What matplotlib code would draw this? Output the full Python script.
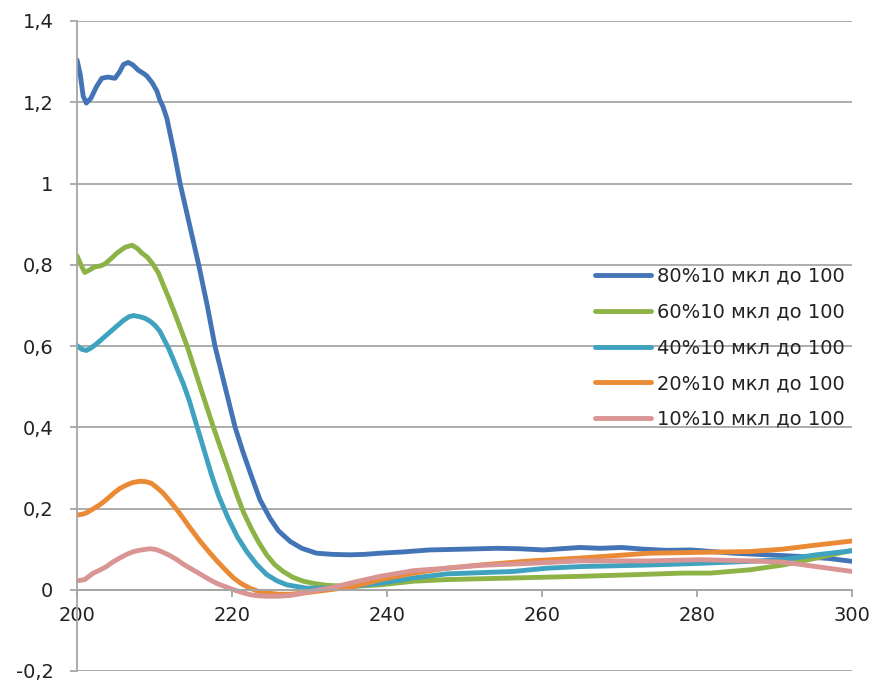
import matplotlib
matplotlib.use("Agg")
import matplotlib.pyplot as plt
from matplotlib.ticker import FixedLocator, FixedFormatter

# Absorbance spectra, wavelength in nm
x80 = [200.0, 200.4, 200.8, 201.2, 201.8, 202.5, 203.2, 204.0, 204.9, 205.5, 206.0, 206.6,
       207.2, 207.9, 208.5, 209.0, 209.7, 210.3, 210.7, 211.1, 211.6, 212.0, 212.6, 213.3,
       214.5, 215.7, 216.8, 217.8, 219.1, 220.4, 221.4, 222.5, 223.6, 224.9, 226.0, 227.5,
       229.0, 230.9, 233.0, 235.2, 237.0, 239.1, 242.0, 245.5, 250.0, 254.2, 257.0, 260.2,
       262.5, 264.9, 267.5, 270.3, 273.0, 276.1, 279.1, 282.0, 284.7, 289.0, 293.3, 297.0,
       300.0]
y80 = [1.304, 1.270, 1.215, 1.198, 1.210, 1.238, 1.259, 1.262, 1.259, 1.275, 1.293, 1.298,
       1.292, 1.279, 1.272, 1.265, 1.248, 1.228, 1.205, 1.189, 1.160, 1.124, 1.070, 1.000,
       0.900, 0.800, 0.700, 0.600, 0.500, 0.400, 0.340, 0.280, 0.222, 0.176, 0.145, 0.119,
       0.102, 0.090, 0.087, 0.086, 0.087, 0.090, 0.093, 0.098, 0.100, 0.102, 0.101, 0.098,
       0.101, 0.104, 0.102, 0.104, 0.100, 0.097, 0.098, 0.094, 0.090, 0.086, 0.082, 0.077,
       0.070]

x60 = [200.0, 200.5, 201.0, 201.6, 202.3, 203.0, 203.6, 204.4, 205.1, 206.2, 207.1, 207.8,
       208.3, 209.1, 209.8, 210.5, 211.1, 211.8, 212.4, 213.3, 214.2, 215.3, 216.4, 217.6,
       218.6, 219.7, 220.6, 221.5, 222.5, 223.5, 224.5, 225.5, 226.6, 227.8, 229.2, 230.7,
       232.2, 235.2, 239.1, 243.4, 247.7, 256.3, 264.9, 271.8, 278.2, 281.7, 286.8, 291.1,
       295.4, 300.0]
y60 = [0.822, 0.800, 0.781, 0.787, 0.795, 0.797, 0.802, 0.815, 0.828, 0.843, 0.848, 0.840,
       0.830, 0.818, 0.801, 0.780, 0.752, 0.720, 0.691, 0.646, 0.600, 0.535, 0.470, 0.400,
       0.345, 0.285, 0.235, 0.190, 0.150, 0.115, 0.085, 0.062, 0.045, 0.031, 0.021, 0.015,
       0.011, 0.008, 0.012, 0.021, 0.025, 0.029, 0.033, 0.037, 0.041, 0.041, 0.049, 0.061,
       0.078, 0.097]

x40 = [200.0, 200.6, 201.2, 201.8, 202.5, 203.4, 204.3, 205.2, 206.0, 206.7, 207.3, 208.1,
       208.8, 209.5, 210.1, 210.7, 211.1, 211.8, 212.4, 213.0, 213.7, 214.5, 215.2, 216.3,
       217.4, 218.3, 219.5, 220.7, 221.9, 223.2, 224.5, 225.8, 227.1, 229.6, 232.6, 235.5,
       239.1, 243.4, 247.7, 256.3, 260.6, 264.9, 273.9, 280.4, 286.8, 291.1, 295.4, 300.0]
y40 = [0.601, 0.592, 0.589, 0.595, 0.605, 0.620, 0.635, 0.650, 0.663, 0.672, 0.675, 0.672,
       0.668, 0.660, 0.650, 0.636, 0.621, 0.595, 0.568, 0.540, 0.508, 0.465, 0.420, 0.350,
       0.280, 0.230, 0.176, 0.130, 0.094, 0.062, 0.037, 0.022, 0.012, 0.004, 0.004, 0.008,
       0.016, 0.029, 0.039, 0.045, 0.053, 0.057, 0.061, 0.065, 0.070, 0.074, 0.086, 0.096]

x20 = [200.0, 200.7, 201.2, 202.0, 203.0, 203.8, 204.7, 205.5, 206.4, 207.2, 208.1, 208.9,
       209.6, 210.4, 211.1, 212.0, 212.9, 213.7, 214.6, 215.9, 217.0, 218.0, 219.1, 220.2,
       221.2, 222.3, 223.4, 224.5, 226.0, 227.5, 229.2, 230.9, 233.0, 235.2, 237.2, 239.1,
       243.4, 247.7, 252.0, 258.5, 264.9, 273.9, 280.4, 286.8, 291.1, 295.4, 300.0]
y20 = [0.184, 0.186, 0.189, 0.198, 0.210, 0.222, 0.237, 0.249, 0.258, 0.264, 0.267, 0.266,
       0.262, 0.250, 0.238, 0.218, 0.197, 0.176, 0.152, 0.119, 0.094, 0.072, 0.050, 0.029,
       0.015, 0.004, -0.004, -0.008, -0.011, -0.011, -0.008, -0.004, 0.001, 0.006, 0.015, 0.025,
       0.041, 0.053, 0.061, 0.071, 0.078, 0.090, 0.092, 0.094, 0.100, 0.110, 0.120]

x10 = [200.0, 201.0, 202.1, 203.0, 203.8, 204.6, 205.5, 206.4, 207.3, 208.3, 209.4, 210.2,
       210.9, 211.9, 212.9, 213.7, 214.6, 215.5, 216.3, 217.2, 218.1, 219.2, 220.2, 221.2,
       222.3, 223.4, 224.5, 226.0, 227.5, 228.8, 230.1, 232.6, 235.2, 237.0, 239.1, 243.4,
       247.7, 252.0, 258.5, 264.9, 273.9, 280.4, 286.8, 291.1, 295.4, 300.0]
y10 = [0.022, 0.025, 0.041, 0.049, 0.057, 0.068, 0.078, 0.087, 0.094, 0.098, 0.101, 0.099,
       0.094, 0.085, 0.074, 0.063, 0.053, 0.043, 0.034, 0.024, 0.015, 0.007, 0.000, -0.006,
       -0.012, -0.015, -0.016, -0.016, -0.014, -0.010, -0.004, 0.004, 0.016, 0.024, 0.033, 0.047,
       0.053, 0.060, 0.065, 0.071, 0.071, 0.074, 0.071, 0.068, 0.057, 0.045]

series_labels = ["80%10 мкл до 100", "60%10 мкл до 100", "40%10 мкл до 100",
                 "20%10 мкл до 100", "10%10 мкл до 100"]
series_colors = ["#4375B6", "#8DB347", "#3FA2BE", "#EB8A35", "#D99594"]

x_ticks = [200, 220, 240, 260, 280, 300]
x_tick_labels = ["200", "220", "240", "260", "280", "300"]
y_ticks = [-0.2, 0.0, 0.2, 0.4, 0.6, 0.8, 1.0, 1.2, 1.4]
y_tick_labels = ["-0,2", "0", "0,2", "0,4", "0,6", "0,8", "1", "1,2", "1,4"]

plt.rcParams['font.family'] = ['DejaVu Sans']
fig = plt.figure(figsize=(8.76, 6.81), dpi=100)
ax = fig.add_axes([77 / 876, 10 / 681, 775 / 876, 650 / 681])

grid_color = "#A6A6A6"
for spine in ("top", "right"):
    ax.spines[spine].set_visible(False)
ax.spines["left"].set_color(grid_color)
ax.spines["left"].set_linewidth(1.3)
ax.spines["bottom"].set_color(grid_color)
ax.spines["bottom"].set_linewidth(1.3)
ax.spines["bottom"].set_position(("data", 0))

ax.set_xlim(200, 300)
ax.set_ylim(-0.2, 1.4)
ax.yaxis.set_major_locator(FixedLocator(y_ticks))
ax.yaxis.set_major_formatter(FixedFormatter(y_tick_labels))
ax.xaxis.set_major_locator(FixedLocator(x_ticks))
ax.xaxis.set_major_formatter(FixedFormatter(x_tick_labels))
ax.tick_params(axis="both", colors=grid_color, labelcolor="#222222",
               labelsize=14, length=5, width=1.3, direction="out")
ax.tick_params(axis="y", pad=12)
ax.tick_params(axis="x", pad=7)
ax.yaxis.grid(True, color=grid_color, linewidth=1.3)
ax.set_axisbelow(True)

for xs, ys, lab, col in zip([x80, x60, x40, x20, x10], [y80, y60, y40, y20, y10],
                            series_labels, series_colors):
    ax.plot(xs, ys, color=col, linewidth=3.5, label=lab,
            solid_capstyle="round", solid_joinstyle="round")

leg = ax.legend(loc="upper left", bbox_to_anchor=(595 / 876, 1 - 267 / 681),
                bbox_transform=fig.transFigure, frameon=False, fontsize=14,
                handlelength=2.9, handletextpad=0.3, labelspacing=0.86,
                borderpad=0, borderaxespad=0)
for t in leg.get_texts():
    t.set_color("#222222")

fig.savefig("out.png", dpi=100)
